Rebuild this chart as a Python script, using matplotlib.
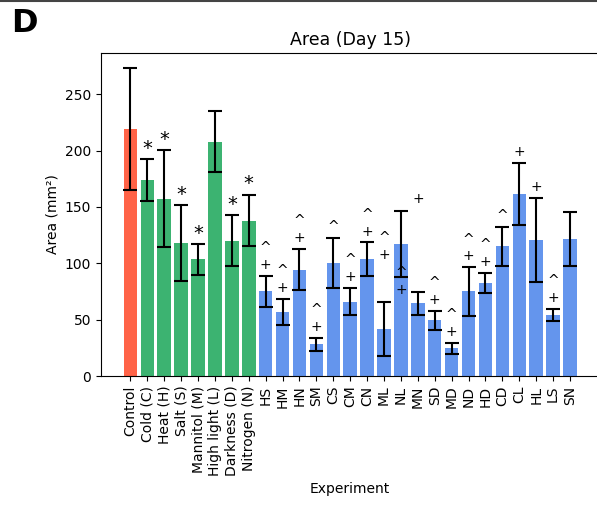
#!/usr/bin/env python3
"""
Area (Day 15) bar chart, panel D
"""

import matplotlib
matplotlib.use('Agg')
import matplotlib.pyplot as plt
from matplotlib.lines import Line2D
import numpy as np

# Experiments and measured area at day 15 (mean, error)
labels = ['Control', 'Cold (C)', 'Heat (H)', 'Salt (S)', 'Mannitol (M)', 'High light (L)',
          'Darkness (D)', 'Nitrogen (N)',
          'HS', 'HM', 'HN', 'SM', 'CS', 'CM', 'CN', 'ML', 'NL', 'MN', 'SD', 'MD',
          'ND', 'HD', 'CD', 'CL', 'HL', 'LS', 'SN']
area = [219, 174, 157.5, 118, 103.5, 208, 120, 138,
        75, 57, 94.5, 28, 100.5, 66, 103.5, 42, 117, 64.5, 49.5, 24.5,
        75, 82.5, 115, 161.5, 120.5, 54, 121.5]
err = [54, 18.5, 43, 34, 13.5, 27, 22.5, 23,
       14, 11.5, 18.5, 6, 22, 12, 15, 24, 29.5, 10, 8.5, 5,
       21.5, 9, 17.5, 27.5, 37.5, 5.5, 24]
group = ['control'] + ['single'] * 7 + ['combo'] * 19

# significance marks
stars = ['', '*', '*', '*', '*', '', '*', '*'] + [''] * 19
marks = [''] * 8 + ['^\n+', '^\n+', '^\n+', '^\n+', '^', '^\n+', '^\n+', '^\n+', '^\n+',
                    '+', '^\n+', '^\n+', '^\n+', '^\n+', '^', '+', '+', '^\n+', '']
# a few marks sit at a different height than their own error bar
mark_base = {'ML': 98, 'NL': 66.5, 'MN': 147}

colors = {'control': 'tomato', 'single': 'mediumseagreen', 'combo': 'cornflowerblue'}

fig = plt.figure(figsize=(5.97, 5.05), dpi=100)
# the panel is cut at the right, so the right spine is out of the picture
ax = fig.add_axes([101 / 597, 129 / 505, 498.4 / 597, 323 / 505])
ax.spines['right'].set_visible(False)

x = np.arange(len(labels))
ax.bar(x, area, yerr=err, color=[colors[g] for g in group], width=0.8,
       capsize=5, error_kw=dict(elinewidth=1.5, capthick=1.5, ecolor='black'))

for i, lab in enumerate(labels):
    top = area[i] + err[i]
    if stars[i]:
        ax.text(i, top + 1, stars[i], ha='center', va='bottom', fontsize=14)
    if marks[i]:
        base = mark_base.get(lab, top)
        ax.text(i, base + 3.5, marks[i], ha='center', va='bottom', fontsize=10,
                linespacing=1.25)

ax.set_xticks(x)
ax.set_xticklabels(labels, rotation=90, fontsize=10)
ax.tick_params(axis='y', labelsize=10)
ax.set_xlabel('Experiment', fontsize=10)
ax.set_ylabel('Area (mm²)', fontsize=10)
ax.set_title('Area (Day 15)', fontsize=12.5)

fig.text(11 / 597, 1 - 24 / 505, 'D', fontsize=23, fontweight='bold', va='center', ha='left')
fig.add_artist(Line2D([0, 1], [0.999, 0.999], transform=fig.transFigure,
                      color='#444444', linewidth=1.5))

plt.savefig('out.png', dpi=100)
print("Created: out.png")
